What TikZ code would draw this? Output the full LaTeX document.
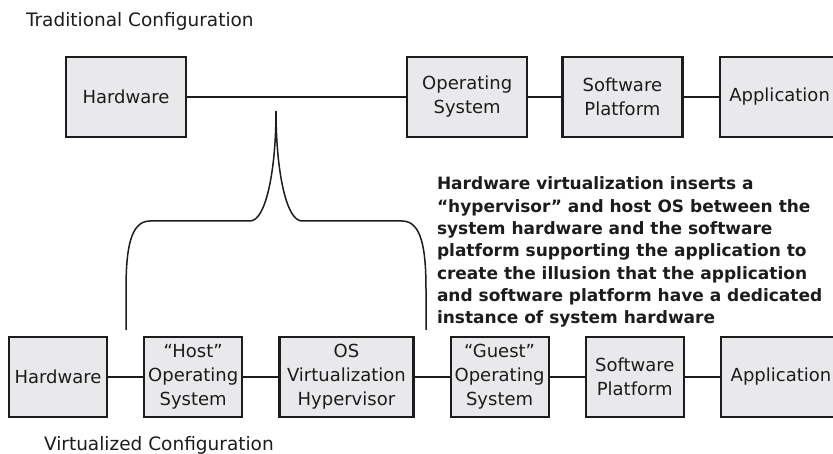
\documentclass[tikz,border=0pt]{standalone}
\usepackage{fontspec}
\setmainfont{DejaVu Sans}
\usepackage{xcolor}
\usepackage{tikz}
\usetikzlibrary{positioning,calc}

\definecolor{boxfill}{RGB}{233,233,235}
\definecolor{ink}{RGB}{28,28,28}

\begin{document}
\begin{tikzpicture}[x=1pt, y=-1pt, color=ink, line width=2pt, node distance=35pt,
  box/.style={draw, fill=boxfill, line width=2.2pt, minimum height=80pt, align=center,
    inner xsep=4pt, font=\fontsize{18}{24}\selectfont},
  topbox/.style={box, minimum width=120pt},
  lowbox/.style={box, minimum width=98pt},
  caption/.style={anchor=base west, inner sep=0pt, font=\fontsize{18.5}{22}\selectfont}]
  \useasboundingbox (0,0) rectangle (833,454);

  % traditional configuration
  \node[caption] (tradlbl) at (25,27) {Traditional Configuration};
  \node[topbox] (hwT) at (126,97) {Hardware};
  \node[topbox] (osT) [right=219pt of hwT] {Operating\\System};
  \node[topbox] (spT) [right=33pt of osT] {Software\\Platform};
  \node[topbox] (appT) [right=of spT] {Application};

  \path (hwT) edge (osT)
        (osT) edge (spT)
        (spT) edge (appT);

  % virtualized configuration
  \node[lowbox] (hwB) at (58,377) {Hardware};
  \node[lowbox] (hostB) [right=of hwB] {“Host”\\Operating\\System};
  \node[lowbox, minimum width=134pt] (hypB) [right=of hostB] {OS\\Virtualization\\Hypervisor};
  \node[lowbox] (guestB) [right=of hypB] {“Guest”\\Operating\\System};
  \node[lowbox] (spB) [right=of guestB] {Software\\Platform};
  \node[lowbox, minimum width=120pt] (appB) [right=of spB] {Application};
  \node[caption] (virtlbl) at (43,450) {Virtualized Configuration};

  \path (hwB) edge (hostB)
        (hostB) edge (hypB)
        (hypB) edge (guestB)
        (guestB) edge (spB)
        (spB) edge (appB);

  % brace from the hardware link down to host OS + hypervisor
  \coordinate (tip) at (276,111);
  \draw[line width=1.5pt] (126,330) -- (126,290) .. controls (126,250) and (130,221) .. (150,221)
    -- (250,221) .. controls (266,221) and (276,170) .. (tip)
    .. controls (276,170) and (286,221) .. (302,221)
    -- (402,221) .. controls (422,221) and (426,250) .. (426,290) -- (426,330);

  \node[anchor=north west, inner sep=0pt, align=left,
    font=\bfseries\fontsize{17}{22.3}\selectfont] (note) at (436,176)
    {Hardware virtualization inserts a\\
     “hypervisor” and host OS between the\\
     system hardware and the software\\
     platform supporting the application to\\
     create the illusion that the application\\
     and software platform have a dedicated\\
     instance of system hardware};
\end{tikzpicture}
\end{document}
